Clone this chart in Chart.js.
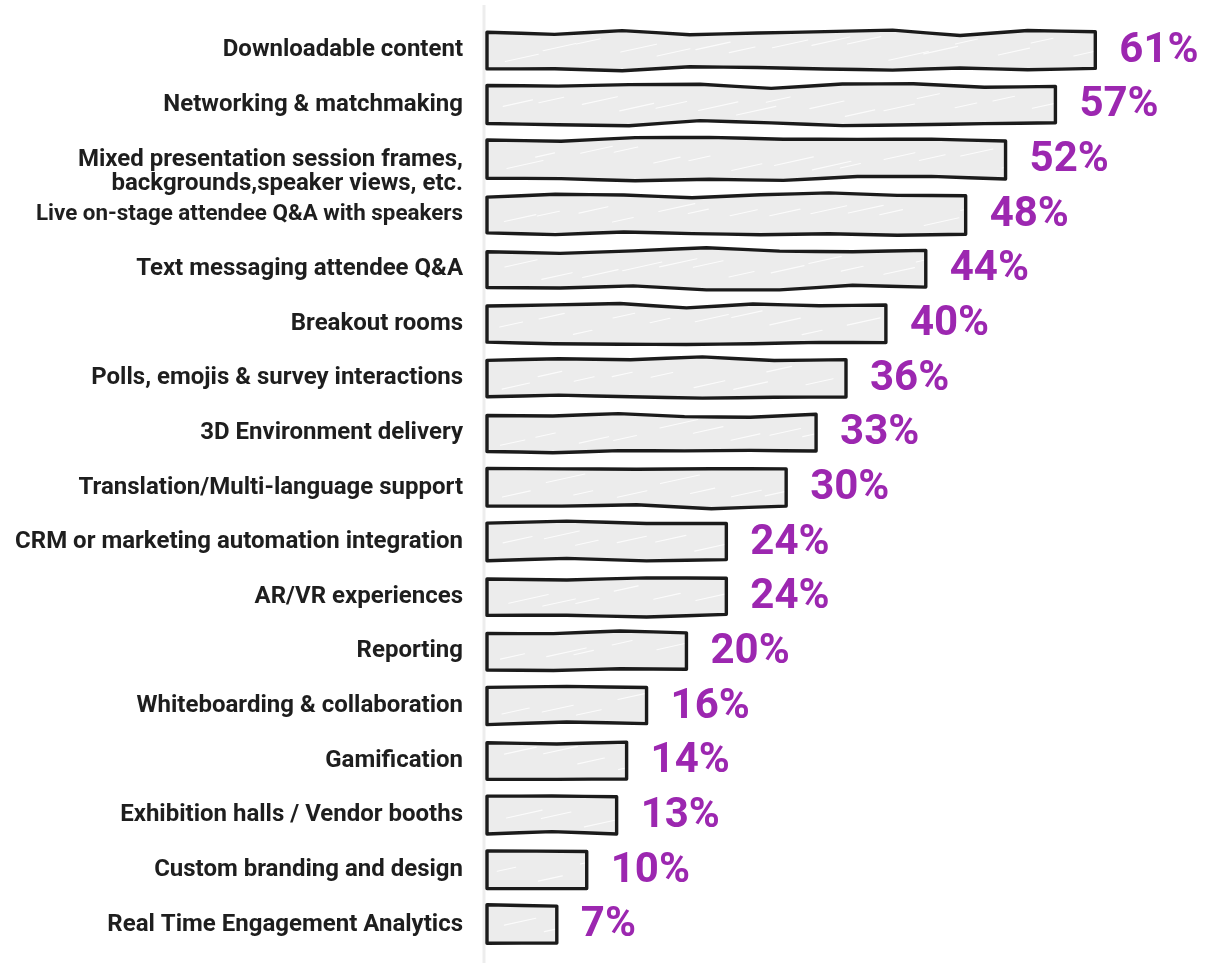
<!DOCTYPE html>
<html lang="en">
<head>
<meta charset="utf-8">
<title>Virtual event platform features</title>
<script src="https://cdn.jsdelivr.net/npm/chart.js@4.4.1/dist/chart.umd.min.js"></script>
<style>
    html, body { margin: 0; padding: 0; background: #ffffff; }
    .contenedor-grafica { position: relative; width: 1205px; height: 963px; }
</style>
</head>
<body>
<div class="contenedor-grafica">
    <canvas id="canvasFeatures"></canvas>
</div>
<script>
const categories = [
    'Downloadable content',
    'Networking & matchmaking',
    ['', 'Mixed presentation session frames,', 'backgrounds,speaker views, etc.'],
    'Live on-stage attendee Q&A with speakers',
    'Text messaging attendee Q&A',
    'Breakout rooms',
    'Polls, emojis & survey interactions',
    '3D Environment delivery',
    'Translation/Multi-language support',
    'CRM or marketing automation integration',
    'AR/VR experiences',
    'Reporting',
    'Whiteboarding & collaboration',
    'Gamification',
    'Exhibition halls / Vendor booths',
    'Custom branding and design',
    'Real Time Engagement Analytics'
];
const percentages = [61, 57, 52, 48, 44, 40, 36, 33, 30, 24, 24, 20, 16, 14, 13, 10, 7];
const axisMax = 72;

const PURPLE = '#9c27b0';
const INK = '#1b1b1b';
const BAR_FILL = '#ececec';

// cheap deterministic noise so the hand-drawn outlines look the same on every render
function noise(seed) {
    const s = Math.sin(seed * 12.9898 + 78.233) * 43758.5453;
    return s - Math.floor(s);
}

// points along one edge, nudged sideways a little
function edgePoints(x1, y1, x2, y2, seed, amp) {
    const len = Math.hypot(x2 - x1, y2 - y1);
    const n = Math.max(1, Math.round(len / 70));
    const nx = -(y2 - y1) / len;
    const ny = (x2 - x1) / len;
    const pts = [];
    for (let i = 0; i < n; i++) {
        const t = i / n;
        const off = i === 0 ? 0 : (noise(seed + i * 7.31) - 0.5) * 2 * amp;
        pts.push([x1 + (x2 - x1) * t + nx * off, y1 + (y2 - y1) * t + ny * off]);
    }
    return pts;
}

function sketchPath(ctx, left, top, right, bottom, seed) {
    const amp = 2.8;
    const pts = [
        ...edgePoints(left, top + (noise(seed) - 0.5) * 3, right, top + (noise(seed + 1) - 0.5) * 3, seed + 10, amp),
        ...edgePoints(right, top, right + (noise(seed + 2) - 0.5) * 3, bottom, seed + 20, 1),
        ...edgePoints(right, bottom + (noise(seed + 3) - 0.5) * 3, left, bottom, seed + 30, amp),
        ...edgePoints(left, bottom, left + (noise(seed + 4) - 0.5) * 2, top, seed + 40, 0.8)
    ];
    ctx.beginPath();
    ctx.moveTo(pts[0][0], pts[0][1]);
    for (let i = 1; i < pts.length; i++) {
        const p = pts[i];
        const prev = pts[i - 1];
        ctx.quadraticCurveTo(prev[0], prev[1], (prev[0] + p[0]) / 2, (prev[1] + p[1]) / 2);
        ctx.lineTo(p[0], p[1]);
    }
    ctx.closePath();
}

const sketchBars = {
    id: 'sketchBars',
    beforeDatasetsDraw(chart) {
        const { ctx, chartArea } = chart;
        ctx.save();
        ctx.strokeStyle = '#ededed';
        ctx.lineWidth = 3;
        ctx.beginPath();
        ctx.moveTo(chartArea.left - 3, 5);
        ctx.lineTo(chartArea.left - 3, chart.height);
        ctx.stroke();
        ctx.restore();
    },
    afterDatasetsDraw(chart) {
        const { ctx } = chart;
        const meta = chart.getDatasetMeta(0);
        const valores = chart.data.datasets[0].data;
        meta.data.forEach((bar, i) => {
            const left = bar.base;
            const right = bar.x;
            const top = bar.y - bar.height / 2;
            const bottom = bar.y + bar.height / 2;
            const seed = (i + 1) * 31.7;

            ctx.save();
            sketchPath(ctx, left, top, right, bottom, seed);
            ctx.fillStyle = BAR_FILL;
            ctx.fill();

            // faint white pencil strokes in the fill
            ctx.clip();
            ctx.strokeStyle = 'rgba(255,255,255,0.8)';
            ctx.lineWidth = 1.1;
            ctx.lineCap = 'round';
            for (let x = left + 10; x < right - 10; x += 38) {
                const j = noise(seed + x * 0.37);
                const k = noise(seed + x * 0.91);
                const y0 = top + bar.height * (0.3 + j * 0.55);
                const dx = 18 + k * 22;
                ctx.beginPath();
                ctx.moveTo(x + k * 12, y0);
                ctx.lineTo(x + k * 12 + dx, y0 - dx * 0.22);
                ctx.stroke();
            }
            ctx.restore();

            ctx.save();
            sketchPath(ctx, left, top, right, bottom, seed);
            ctx.strokeStyle = INK;
            ctx.lineWidth = 3.4;
            ctx.lineJoin = 'round';
            ctx.stroke();
            ctx.restore();

            ctx.save();
            ctx.fillStyle = PURPLE;
            ctx.font = 'bold 42px Roboto';
            ctx.textAlign = 'left';
            ctx.textBaseline = 'middle';
            ctx.fillText(`${valores[i]}%`, right + 24, bar.y + 1);
            ctx.restore();
        });
    }
};

function dibujarGrafica() {
    const ctx = document.getElementById('canvasFeatures');
    new Chart(ctx, {
        type: 'bar',
        data: {
            labels: categories,
            datasets: [{
                data: percentages,
                backgroundColor: 'rgba(0,0,0,0)',
                borderWidth: 0,
                barPercentage: 0.68,
                categoryPercentage: 1
            }]
        },
        options: {
            indexAxis: 'y',
            responsive: true,
            maintainAspectRatio: false,
            animation: false,
            layout: { padding: { top: 23, bottom: 11, left: 0, right: 0 } },
            plugins: {
                legend: { display: false },
                tooltip: { enabled: false }
            },
            scales: {
                x: { display: false, min: 0, max: axisMax },
                y: {
                    grid: { display: false, drawTicks: false },
                    border: { display: false },
                    ticks: {
                        color: '#1e1e1e',
                        padding: 24,
                        autoSkip: false,
                        // the long Q&A label is set a bit tighter so it fits the column
                        font: (c) => ({
                            family: 'Roboto',
                            weight: 'bold',
                            size: c.index === 3 ? 22.4 : 24,
                            lineHeight: 1.0
                        })
                    },
                    afterFit(scale) {
                        scale.width = 487;
                        scale.paddingTop = 0;
                        scale.paddingBottom = 0;
                    }
                }
            }
        },
        plugins: [sketchBars]
    });
}

document.addEventListener('DOMContentLoaded', dibujarGrafica);
</script>
</body>
</html>
